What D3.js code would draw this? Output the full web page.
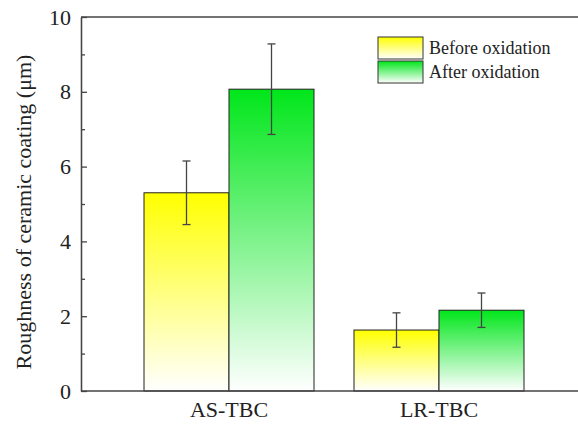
<!DOCTYPE html>
<html>
<head>
<meta charset="utf-8">
<script src="https://cdn.jsdelivr.net/npm/d3@7"></script>
<style>
  body { margin: 0; background: #fff; }
  svg text { font-family: 'Liberation Serif', 'Times New Roman', Tinos !important; }
</style>
</head>
<body>
<script>
// data
const categories = ['AS-TBC', 'LR-TBC'];
const series = ['Before oxidation', 'After oxidation'];
const meanValues = [[5.3, 8.07], [1.63, 2.16]];
const errValues = [[0.85, 1.21], [0.46, 0.46]];
const majorTicks = [0, 2, 4, 6, 8, 10];
const minorTicks = [1, 3, 5, 7, 9];
const colors = ['#ffff00', '#00e61a'];

const width = 578, height = 426;
const plotLeft = 81, plotTop = 17, plotBottom = 391;
const fontName = "'Liberation Serif', 'Times New Roman', Tinos";

const svg = d3.select('body').append('svg')
  .attr('width', width)
  .attr('height', height)
  .attr('font-family', fontName);

const defs = svg.append('defs');
colors.forEach((c, i) => {
  const g = defs.append('linearGradient')
    .attr('id', 'grad' + i)
    .attr('x1', 0).attr('y1', 0).attr('x2', 0).attr('y2', 1);
  g.append('stop').attr('offset', '0%').attr('stop-color', c);
  g.append('stop').attr('offset', '100%').attr('stop-color', '#ffffff');
});

const x = d3.scaleBand()
  .domain(categories)
  .range([104, 564])
  .padding(0.1905);

const xSub = d3.scaleBand()
  .domain(series)
  .range([0, x.bandwidth()]);

const y = d3.scaleLinear()
  .domain([0, 10])
  .range([plotBottom, plotTop]);

// bars
const groups = svg.append('g').selectAll('g')
  .data(categories)
  .enter().append('g')
  .attr('transform', d => `translate(${x(d)},0)`);

groups.selectAll('rect')
  .data((d, i) => series.map((s, j) => ({ s, j, v: meanValues[i][j], e: errValues[i][j] })))
  .enter().append('rect')
  .attr('x', d => xSub(d.s))
  .attr('width', xSub.bandwidth())
  .attr('y', d => y(d.v))
  .attr('height', d => y(0) - y(d.v))
  .attr('fill', d => `url(#grad${d.j})`)
  .attr('stroke', '#222')
  .attr('stroke-width', 1);

// error bars
const eb = groups.selectAll('g.err')
  .data((d, i) => series.map((s, j) => ({ s, v: meanValues[i][j], e: errValues[i][j] })))
  .enter().append('g').attr('class', 'err')
  .attr('stroke', '#444')
  .attr('stroke-width', 1.3);

eb.append('line')
  .attr('x1', d => xSub(d.s) + xSub.bandwidth() / 2)
  .attr('x2', d => xSub(d.s) + xSub.bandwidth() / 2)
  .attr('y1', d => y(d.v + d.e))
  .attr('y2', d => y(d.v - d.e));
[1, -1].forEach(sign => {
  eb.append('line')
    .attr('x1', d => xSub(d.s) + xSub.bandwidth() / 2 - 4)
    .attr('x2', d => xSub(d.s) + xSub.bandwidth() / 2 + 4)
    .attr('y1', d => y(d.v + sign * d.e))
    .attr('y2', d => y(d.v + sign * d.e));
});

// axes
const yAxis = svg.append('g')
  .attr('transform', `translate(${plotLeft},0)`)
  .call(d3.axisLeft(y).tickValues(majorTicks).tickSizeInner(-6).tickSizeOuter(0).tickPadding(10));
yAxis.attr('font-family', fontName).attr('font-size', 22);
yAxis.selectAll('text').attr('fill', '#222');

svg.append('g')
  .attr('transform', `translate(${plotLeft},0)`)
  .call(d3.axisLeft(y).tickValues(minorTicks).tickSizeInner(-4).tickSizeOuter(0).tickFormat(''));

svg.selectAll('.domain, .tick line').attr('stroke', '#444').attr('stroke-width', 1.3);

// bottom and top frame lines
svg.append('line')
  .attr('x1', plotLeft).attr('x2', width + 5)
  .attr('y1', plotBottom).attr('y2', plotBottom)
  .attr('stroke', '#444').attr('stroke-width', 1.5);
svg.append('line')
  .attr('x1', plotLeft).attr('x2', width + 5)
  .attr('y1', plotTop).attr('y2', plotTop)
  .attr('stroke', '#444').attr('stroke-width', 1.3);

// category labels
svg.append('g').selectAll('text')
  .data(categories)
  .enter().append('text')
  .attr('x', d => x(d) + x.bandwidth() / 2)
  .attr('y', 417)
  .attr('text-anchor', 'middle')
  .attr('fill', '#222')
  .attr('font-size', 22)
  .text(d => d);

// y title
svg.append('text')
  .attr('transform', `translate(31,${(plotTop + plotBottom) / 2 + 8}) rotate(-90)`)
  .attr('text-anchor', 'middle')
  .attr('fill', '#222')
  .attr('font-size', 22)
  .text('Roughness of ceramic coating (μm)');

// legend
const legend = svg.append('g').attr('transform', 'translate(378,37)');
series.forEach((s, i) => {
  legend.append('rect')
    .attr('x', 0).attr('y', i * 24)
    .attr('width', 45).attr('height', 22)
    .attr('fill', `url(#grad${i})`)
    .attr('stroke', '#333').attr('stroke-width', 1);
  legend.append('text')
    .attr('x', 51).attr('y', i * 24 + 17)
    .attr('fill', '#222')
    .attr('font-size', 18)
    .text(s);
});
</script>
</body>
</html>
